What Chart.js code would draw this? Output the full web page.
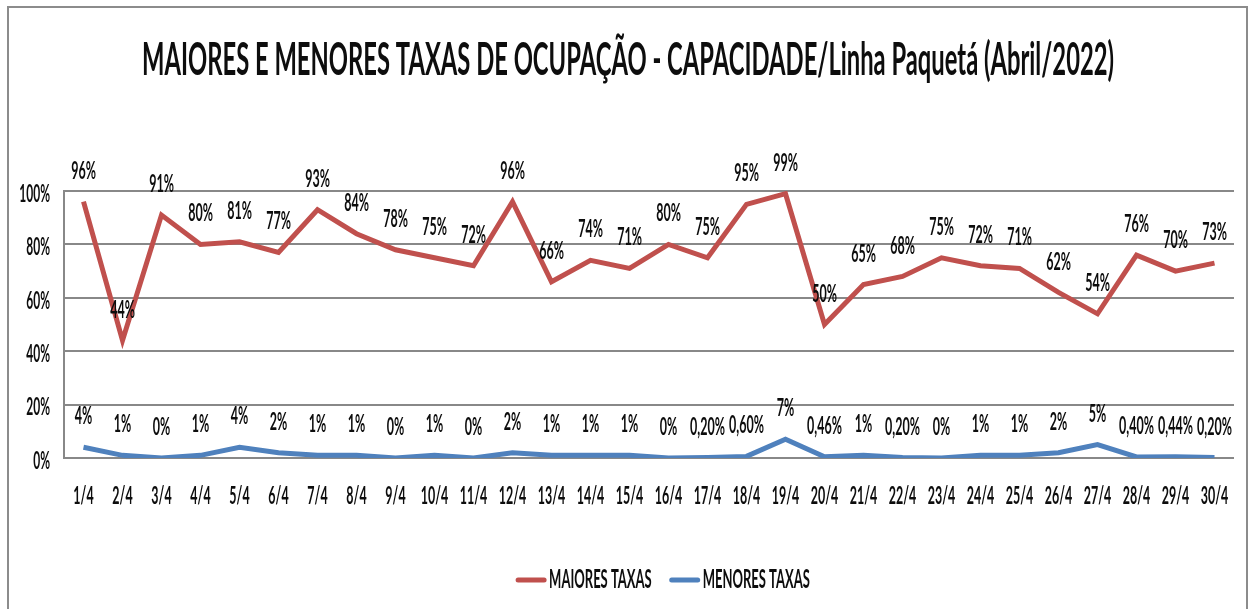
<!DOCTYPE html>
<html>
<head>
<meta charset="utf-8">
<script src="https://cdn.jsdelivr.net/npm/chart.js@4"></script>
<style>
  html, body { margin: 0; padding: 0; background: #fff; }
  #wrap { width: 1250px; height: 609px; }
</style>
</head>
<body>
<div id="wrap"><canvas id="grafico" width="1250" height="609"></canvas></div>
<script>
const titulo = 'MAIORES E MENORES TAXAS DE OCUPAÇÃO - CAPACIDADE/Linha Paquetá (Abril/2022)';

const dias = ['1/4', '2/4', '3/4', '4/4', '5/4', '6/4', '7/4', '8/4', '9/4', '10/4',
  '11/4', '12/4', '13/4', '14/4', '15/4', '16/4', '17/4', '18/4', '19/4', '20/4',
  '21/4', '22/4', '23/4', '24/4', '25/4', '26/4', '27/4', '28/4', '29/4', '30/4'];

const maioresTaxas = [96, 44, 91, 80, 81, 77, 93, 84, 78, 75,
  72, 96, 66, 74, 71, 80, 75, 95, 99, 50,
  65, 68, 75, 72, 71, 62, 54, 76, 70, 73];

const menoresTaxas = [4, 1, 0, 1, 4, 2, 1, 1, 0, 1,
  0, 2, 1, 1, 1, 0, 0.2, 0.6, 7, 0.46,
  1, 0.2, 0, 1, 1, 2, 5, 0.4, 0.44, 0.2];

const yTicks = [0, 20, 40, 60, 80, 100];

const VERMELHO = '#C0504D';
const AZUL = '#4F81BD';
const FONTE = 'Lato, "Open Sans", sans-serif';

function formatPct(v) {
  if (Number.isInteger(v)) return v + '%';
  return v.toFixed(2).replace('.', ',') + '%';
}

// desenha texto "condensado" (escala horizontal)
function texto(ctx, str, x, y, size, weight, sx, align) {
  ctx.save();
  ctx.translate(x, y);
  ctx.scale(sx, 1);
  ctx.font = weight + ' ' + size + 'px ' + FONTE;
  ctx.fillStyle = '#0d0d0d';
  ctx.textAlign = align || 'center';
  ctx.textBaseline = 'middle';
  ctx.fillText(str, 0, 0);
  ctx.restore();
}

function largura(ctx, str, size, weight) {
  ctx.save();
  ctx.font = weight + ' ' + size + 'px ' + FONTE;
  const w = ctx.measureText(str).width;
  ctx.restore();
  return w;
}

const moldura = {
  id: 'moldura',
  beforeDraw(chart) {
    const ctx = chart.ctx;
    ctx.save();
    ctx.fillStyle = '#fff';
    ctx.fillRect(0, 0, chart.width, chart.height);
    ctx.strokeStyle = '#8c8c8c';
    ctx.lineWidth = 2;
    ctx.strokeRect(8, 7, 1239, 700);
    ctx.restore();
  }
};

const textos = {
  id: 'textos',
  afterDraw(chart) {
    const ctx = chart.ctx;
    const area = chart.chartArea;
    const sx = chart.scales.x;
    const sy = chart.scales.y;

    // titulo ajustado a largura do original
    const escT = 972 / largura(ctx, titulo, 46, 'bold');
    texto(ctx, titulo, 628, 60, 46, 'bold', escT, 'center');

    yTicks.forEach(v => {
      texto(ctx, v + '%', area.left - 14, sy.getPixelForValue(v) + 3, 24, 'bold', 0.5, 'right');
    });

    dias.forEach((d, i) => {
      texto(ctx, d, sx.getPixelForValue(i), area.bottom + 38, 24, 'bold', 0.52, 'center');
    });

    chart.data.datasets.forEach((ds, di) => {
      const meta = chart.getDatasetMeta(di);
      meta.data.forEach((pt, i) => {
        texto(ctx, formatPct(ds.data[i]), pt.x, pt.y - 31, 25, 'bold', 0.5, 'center');
      });
    });

    // legenda
    const esc = 0.5;
    const larguras = chart.data.datasets.map(ds => largura(ctx, ds.label, 26, 'bold') * esc);
    const amostra = 30, gap = 3, entre = 18;
    const total = larguras.reduce((a, b) => a + b, 0) + larguras.length * (amostra + gap) + entre;
    let x = 663 - total / 2;
    const yl = 580;
    chart.data.datasets.forEach((ds, i) => {
      ctx.save();
      ctx.strokeStyle = ds.borderColor;
      ctx.lineWidth = 5;
      ctx.lineCap = 'round';
      ctx.beginPath();
      ctx.moveTo(x + 2, yl);
      ctx.lineTo(x + amostra - 2, yl);
      ctx.stroke();
      ctx.restore();
      x += amostra + gap;
      texto(ctx, ds.label, x, yl, 26, 'bold', esc, 'left');
      x += larguras[i] + entre;
    });
  }
};

new Chart(document.getElementById('grafico'), {
  type: 'line',
  data: {
    labels: dias,
    datasets: [
      {
        label: 'MAIORES TAXAS',
        data: maioresTaxas,
        borderColor: VERMELHO,
        backgroundColor: VERMELHO,
        borderWidth: 5,
        pointRadius: 0,
        tension: 0
      },
      {
        label: 'MENORES TAXAS',
        data: menoresTaxas,
        borderColor: AZUL,
        backgroundColor: AZUL,
        borderWidth: 5,
        pointRadius: 0,
        tension: 0
      }
    ]
  },
  options: {
    responsive: false,
    animation: false,
    layout: { padding: { left: 64, right: 16, top: 191, bottom: 151 } },
    plugins: {
      legend: { display: false },
      title: { display: false },
      tooltip: { enabled: false }
    },
    scales: {
      x: {
        offset: true,
        grid: { display: false, drawTicks: false },
        border: { display: false },
        ticks: { display: false }
      },
      y: {
        min: 0,
        max: 100,
        ticks: { display: false, stepSize: 20 },
        grid: { color: '#888', lineWidth: 2, drawTicks: false },
        border: { display: true, color: '#888', width: 2 }
      }
    }
  },
  plugins: [moldura, textos]
});
</script>
</body>
</html>
